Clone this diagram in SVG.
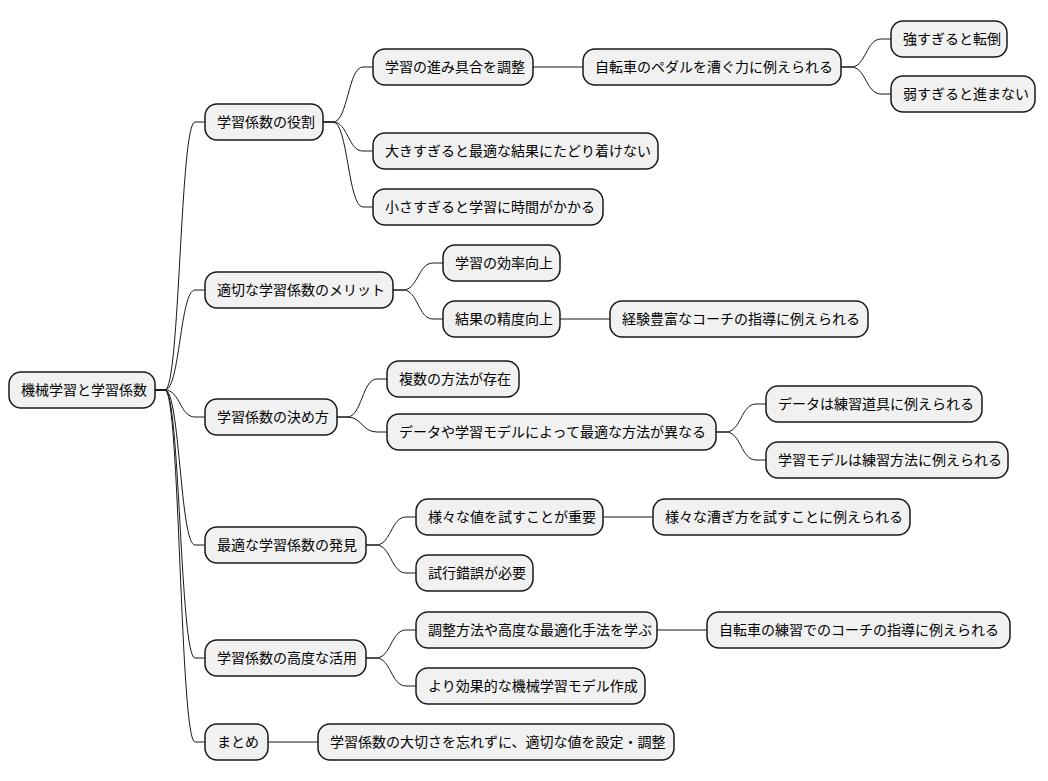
<svg xmlns="http://www.w3.org/2000/svg" width="1048" height="781" viewBox="0 0 1048 781">
<style>
rect{fill:#f1f1f1;stroke:#181818;stroke-width:1.5}
text{font-family:"Noto Sans CJK JP","Noto Sans",sans-serif;font-size:14px;fill:#000}
#edges path{fill:none;stroke:#181818;stroke-width:1}
</style>
<rect x="0" y="0" width="1048" height="781" style="fill:#fff;stroke:none"/>
<g id="edges">
<path d="M155 390H165C180 390 180 122 195 122H205"/>
<path d="M155 390H165C180 390 180 290 195 290H205"/>
<path d="M155 390H165C180 390 180 417 195 417H205"/>
<path d="M155 390H165C180 390 180 545 195 545H205"/>
<path d="M155 390H165C180 390 180 658 195 658H205"/>
<path d="M155 390H165C180 390 180 742 195 742H205"/>
<path d="M323 122H333C348 122 348 67 363 67H373"/>
<path d="M323 122H333C348 122 348 151 363 151H373"/>
<path d="M323 122H333C348 122 348 207 363 207H373"/>
<path d="M533 67H583"/>
<path d="M841 67H851C866 67 866 39 881 39H891"/>
<path d="M841 67H851C866 67 866 94 881 94H891"/>
<path d="M393 290H403C418 290 418 263 433 263H443"/>
<path d="M393 290H403C418 290 418 319 433 319H443"/>
<path d="M560 319H610"/>
<path d="M337 417H347C362 417 362 379 377 379H387"/>
<path d="M337 417H347C362 417 362 432 377 432H387"/>
<path d="M716 432H726C741 432 741 404 756 404H766"/>
<path d="M716 432H726C741 432 741 460 756 460H766"/>
<path d="M366 545H376C391 545 391 517 406 517H416"/>
<path d="M366 545H376C391 545 391 573 406 573H416"/>
<path d="M603 517H653"/>
<path d="M366 658H376C391 658 391 630 406 630H416"/>
<path d="M366 658H376C391 658 391 686 406 686H416"/>
<path d="M657 630H707"/>
<path d="M268 742H318"/>
</g>
<g id="n0"><rect x="9" y="372" width="146" height="36" rx="12"/><text x="21" y="395">機械学習と学習係数</text></g>
<g id="n1"><rect x="205" y="104" width="118" height="36" rx="12"/><text x="217" y="127">学習係数の役割</text></g>
<g id="n2"><rect x="373" y="49" width="160" height="36" rx="12"/><text x="385" y="72">学習の進み具合を調整</text></g>
<g id="n3"><rect x="583" y="49" width="258" height="36" rx="12"/><text x="595" y="72">自転車のペダルを漕ぐ力に例えられる</text></g>
<g id="n4"><rect x="891" y="21" width="116" height="36" rx="12"/><text x="903" y="44">強すぎると転倒</text></g>
<g id="n5"><rect x="891" y="76" width="144" height="36" rx="12"/><text x="903" y="99">弱すぎると進まない</text></g>
<g id="n6"><rect x="373" y="133" width="285" height="36" rx="12"/><text x="385" y="156">大きすぎると最適な結果にたどり着けない</text></g>
<g id="n7"><rect x="373" y="189" width="230" height="36" rx="12"/><text x="385" y="212">小さすぎると学習に時間がかかる</text></g>
<g id="n8"><rect x="205" y="272" width="188" height="36" rx="12"/><text x="217" y="295">適切な学習係数のメリット</text></g>
<g id="n9"><rect x="443" y="245" width="117" height="36" rx="12"/><text x="455" y="268">学習の効率向上</text></g>
<g id="n10"><rect x="443" y="301" width="117" height="36" rx="12"/><text x="455" y="324">結果の精度向上</text></g>
<g id="n11"><rect x="610" y="301" width="258" height="36" rx="12"/><text x="622" y="324">経験豊富なコーチの指導に例えられる</text></g>
<g id="n12"><rect x="205" y="399" width="132" height="36" rx="12"/><text x="217" y="422">学習係数の決め方</text></g>
<g id="n13"><rect x="387" y="361" width="132" height="36" rx="12"/><text x="399" y="384">複数の方法が存在</text></g>
<g id="n14"><rect x="387" y="414" width="329" height="36" rx="12"/><text x="399" y="437">データや学習モデルによって最適な方法が異なる</text></g>
<g id="n15"><rect x="766" y="386" width="216" height="36" rx="12"/><text x="778" y="409">データは練習道具に例えられる</text></g>
<g id="n16"><rect x="766" y="442" width="242" height="36" rx="12"/><text x="778" y="465">学習モデルは練習方法に例えられる</text></g>
<g id="n17"><rect x="205" y="527" width="161" height="36" rx="12"/><text x="217" y="550">最適な学習係数の発見</text></g>
<g id="n18"><rect x="416" y="499" width="187" height="36" rx="12"/><text x="428" y="522">様々な値を試すことが重要</text></g>
<g id="n19"><rect x="653" y="499" width="257" height="36" rx="12"/><text x="665" y="522">様々な漕ぎ方を試すことに例えられる</text></g>
<g id="n20"><rect x="416" y="555" width="117" height="36" rx="12"/><text x="428" y="578">試行錯誤が必要</text></g>
<g id="n21"><rect x="205" y="640" width="161" height="36" rx="12"/><text x="217" y="663">学習係数の高度な活用</text></g>
<g id="n22"><rect x="416" y="612" width="241" height="36" rx="12"/><text x="428" y="635">調整方法や高度な最適化手法を学ぶ</text></g>
<g id="n23"><rect x="707" y="612" width="303" height="36" rx="12"/><text x="719" y="635">自転車の練習でのコーチの指導に例えられる</text></g>
<g id="n24"><rect x="416" y="668" width="229" height="36" rx="12"/><text x="428" y="691">より効果的な機械学習モデル作成</text></g>
<g id="n25"><rect x="205" y="724" width="63" height="36" rx="12"/><text x="217" y="747">まとめ</text></g>
<g id="n26"><rect x="318" y="724" width="356" height="36" rx="12"/><text x="330" y="747">学習係数の大切さを忘れずに、適切な値を設定・調整</text></g>
</svg>
